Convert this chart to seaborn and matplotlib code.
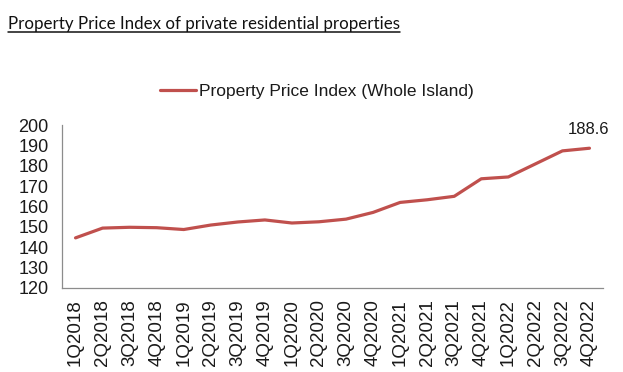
import matplotlib
matplotlib.use("Agg")
import matplotlib.pyplot as plt
from matplotlib.lines import Line2D
import seaborn as sns
import pandas as pd

# quarterly PPI values
quarters = ["1Q2018", "2Q2018", "3Q2018", "4Q2018",
            "1Q2019", "2Q2019", "3Q2019", "4Q2019",
            "1Q2020", "2Q2020", "3Q2020", "4Q2020",
            "1Q2021", "2Q2021", "3Q2021", "4Q2021",
            "1Q2022", "2Q2022", "3Q2022", "4Q2022"]
ppi = [144.6, 149.4, 149.8, 149.6,
       148.7, 150.9, 152.4, 153.4,
       151.9, 152.5, 153.8, 157.1,
       162.0, 163.3, 165.0, 173.6,
       174.5, 180.9, 187.3, 188.6]
series_name = "Property Price Index (Whole Island)"
last_label = "188.6"

df = pd.DataFrame({"Quarter": quarters, "PPI": ppi})

sns.set_style("white")
plt.rcParams['font.family'] = ['Liberation Sans', 'DejaVu Sans']

line_color = "#C0504D"
axis_grey = "#8c8c8c"
text_col = "#1a1a1a"

fig = plt.figure(figsize=(6.23, 3.72), dpi=100)
ax = fig.add_axes([62/623, 1-288/372, (603-62)/623, (288-125)/372])

sns.lineplot(data=df, x="Quarter", y="PPI", ax=ax, color=line_color,
             linewidth=2.3, sort=False, label=series_name, legend=False)

ax.set_ylim(120, 200)
ax.set_yticks(range(120, 201, 10))
ax.set_xlim(-0.5, len(quarters) - 0.5)
ax.set_xticks(range(len(quarters)))
ax.set_xticklabels(quarters, rotation=90)
ax.set_xticks([i - 0.5 for i in range(len(quarters) + 1)], minor=True)
ax.tick_params(axis="x", which="major", length=0, pad=8, labelsize=13.5, colors=text_col)
ax.tick_params(axis="x", which="minor", length=4, width=0.9, color=axis_grey, direction="out")
ax.tick_params(axis="y", length=3.5, width=0.9, color=axis_grey, direction="out",
               labelsize=13, labelcolor=text_col, pad=6)
ax.set_xlabel("")
ax.set_ylabel("")
for s in ["top", "right"]:
    ax.spines[s].set_visible(False)
for s in ["left", "bottom"]:
    ax.spines[s].set_color(axis_grey)
    ax.spines[s].set_linewidth(0.9)

ax.annotate(last_label, xy=(len(quarters) - 1, ppi[-1]), xytext=(-1, 8),
            textcoords="offset points", ha="center", va="bottom", fontsize=12,
            color=text_col)

handle = Line2D([], [], color=line_color, linewidth=2.3)
fig.legend([handle], [series_name], loc="center", bbox_to_anchor=(0.508, 1-91/372),
           frameon=False, fontsize=12.5, handlelength=2.1, handletextpad=0.15,
           borderpad=0, borderaxespad=0, labelcolor=text_col)

title = fig.text(8/623, 1-29/372, "Property Price Index of private residential properties",
                 fontsize=12.2, family=["Lato", "DejaVu Sans"], color="#111111", va="baseline")
fig.canvas.draw()
bb = title.get_window_extent()
uy = 1 - 32/372
fig.add_artist(Line2D([bb.x0/623, bb.x1/623], [uy, uy], color="#111111", linewidth=1.1,
                      transform=fig.transFigure))

fig.savefig("out.png", dpi=100)
